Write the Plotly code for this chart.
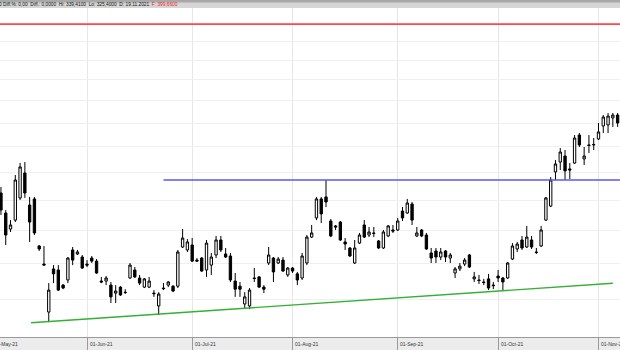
import pandas as pd
import plotly.graph_objects as go

# ---------------- data ----------------
holidays = ["2021-05-31", "2021-07-05", "2021-09-06"]
trading_days = pd.bdate_range("2021-05-03", "2021-11-05", freq="C", holidays=holidays)
candle_dates = trading_days[2:]

opens = [245.0, 231.2, 220.7, 226.5, 241.5, 259.6, 236.6, 240.8, 210.1, 199.4,
         173.5, 196.6, 196.0, 187.6, 190.4, 207.7, 205.3, 203.5,
         199.4, 202.9, 201.1, 189.8, 189.8, 187.6, 183.3, 186.5, 183.8, 191.5,
         196.0, 191.5, 186.5, 186.5, 183.3, 176.6, 186.0, 187.6, 187.0, 187.0,
         209.5, 207.7, 210.7, 201.7, 202.9, 196.0, 198.8, 204.7, 213.8, 205.3,
         204.1, 189.8, 187.0, 177.6, 176.6, 191.5, 192.1, 186.5, 200.0, 202.9,
         200.0, 201.7, 193.2, 197.1, 193.8, 191.5, 200.0, 215.6, 227.9, 240.8,
         242.2, 225.9, 222.7, 225.2, 212.6, 208.9, 200.0, 211.9, 223.3, 216.9,
         218.2, 213.2, 208.9, 216.3, 220.1, 220.1, 232.5, 231.2, 237.3, 216.3,
         220.1, 216.9, 205.9, 207.1, 203.5, 207.1, 202.9, 194.3, 196.6, 199.4,
         204.7, 191.0, 190.4, 189.3, 191.0, 187.6, 192.6, 191.5, 191.5, 202.3,
         208.3, 213.8, 209.5, 213.8, 206.5, 210.1, 226.5, 235.9, 260.4, 268.0,
         272.7, 262.7, 267.2, 289.8, 270.4, 281.6, 281.6, 286.5, 297.5, 298.4,
         304.5, 307.1]
highs = [249.3, 233.2, 226.5, 258.1, 267.3, 268.0, 242.2, 242.2, 210.7, 210.1,
         188.7, 198.8, 198.8, 188.2, 203.5, 209.5, 207.7, 204.7,
         201.7, 204.1, 202.3, 192.1, 192.6, 189.3, 187.6, 187.0, 185.4, 200.0,
         197.7, 193.2, 191.5, 192.1, 184.9, 183.8, 188.7, 189.8, 187.6, 207.7,
         220.7, 214.4, 215.0, 202.9, 203.5, 213.8, 205.9, 216.3, 216.3, 208.9,
         205.9, 194.3, 189.3, 183.8, 186.0, 197.1, 192.6, 187.6, 209.5, 203.5,
         203.5, 203.5, 197.7, 197.7, 194.9, 205.9, 216.9, 223.3, 242.2, 242.2,
         254.4, 227.2, 223.3, 225.9, 215.0, 209.5, 213.8, 218.2, 226.5, 222.0,
         222.0, 213.8, 220.1, 223.3, 223.3, 227.9, 235.2, 240.8, 238.7, 222.0,
         220.7, 218.2, 208.9, 208.9, 208.9, 207.7, 205.9, 197.7, 200.0, 202.9,
         205.3, 194.9, 193.2, 191.0, 193.8, 189.3, 196.0, 192.1, 200.6, 211.9,
         212.6, 216.3, 222.7, 216.3, 208.9, 222.7, 242.2, 256.6, 269.6, 279.1,
         277.5, 267.2, 289.8, 291.5, 279.9, 289.8, 287.3, 300.1, 307.1, 308.9,
         308.9, 308.9]
lows = [229.9, 210.7, 218.8, 225.2, 240.1, 241.5, 212.6, 216.9, 207.1, 198.8,
        168.5, 188.7, 184.4, 185.4, 188.7, 198.8, 204.7, 196.6,
        197.7, 200.0, 193.8, 188.7, 187.6, 178.1, 178.1, 181.8, 182.8, 191.0,
        191.5, 187.6, 186.0, 186.0, 181.3, 172.0, 184.9, 186.5, 183.8, 186.0,
        208.9, 206.5, 200.6, 200.6, 194.9, 192.1, 193.2, 202.9, 206.5, 202.9,
        189.3, 181.3, 181.3, 175.0, 175.0, 189.3, 186.0, 183.3, 198.8, 189.3,
        199.4, 194.9, 192.1, 194.3, 187.6, 190.4, 198.8, 215.0, 226.5, 224.6,
        235.2, 215.6, 220.1, 213.2, 207.7, 203.5, 199.4, 211.3, 215.0, 215.6,
        215.6, 208.3, 208.3, 215.6, 218.2, 219.4, 225.9, 230.6, 223.3, 215.6,
        215.6, 207.7, 200.0, 200.0, 201.7, 200.6, 200.0, 191.5, 195.4, 198.2,
        197.1, 189.3, 188.2, 187.6, 184.9, 185.4, 189.3, 184.4, 191.0, 201.7,
        206.5, 207.7, 208.9, 208.3, 205.3, 209.5, 225.9, 235.2, 254.4, 261.9,
        254.4, 255.1, 266.5, 279.9, 265.7, 275.1, 277.5, 285.7, 291.5, 291.5,
        296.7, 296.7]
closes = [233.2, 216.9, 223.3, 254.4, 264.2, 245.0, 225.2, 218.2, 208.3, 198.8,
          184.9, 193.8, 184.9, 186.0, 202.9, 201.7, 206.5, 197.1,
          198.8, 201.1, 194.3, 189.3, 191.5, 181.3, 184.4, 182.3, 183.6, 198.8,
          192.1, 188.7, 191.0, 189.8, 183.0, 182.8, 185.7, 189.3, 184.4, 206.5,
          215.0, 212.6, 201.1, 201.1, 195.4, 211.9, 203.5, 213.8, 207.7, 203.5,
          190.4, 185.4, 185.4, 181.3, 184.9, 191.2, 186.5, 185.4, 204.7, 194.9,
          202.3, 195.4, 197.1, 195.4, 190.4, 204.1, 215.6, 218.2, 240.8, 230.6,
          238.7, 216.3, 222.0, 213.8, 211.3, 204.1, 208.9, 216.9, 215.6, 218.8,
          217.9, 208.9, 218.8, 222.7, 219.4, 225.9, 227.9, 238.0, 226.5, 218.2,
          216.3, 208.3, 202.9, 203.5, 206.5, 203.5, 204.7, 196.6, 198.2, 201.7,
          197.7, 192.1, 190.1, 189.0, 186.0, 187.3, 191.5, 189.3, 200.0, 210.1,
          211.3, 208.9, 215.6, 209.5, 206.2, 220.1, 241.5, 254.4, 266.5, 275.9,
          261.2, 261.9, 287.3, 281.6, 272.7, 281.2, 282.0, 292.4, 305.3, 306.2,
          307.1, 300.1]

tick_labels = ["01-May-21", "01-Jun-21", "01-Jul-21", "01-Aug-21",
               "01-Sep-21", "01-Oct-21", "01-Nov-21"]
grid_levels = [180, 200, 220, 240, 260, 280, 300, 320, 340, 360, 380, 400, 420]

red_level = 399.66          # horizontal level (red)
blue_level = 254.4          # resistance (blue)
blue_start = "2021-06-23"
green_start, green_end = ("2021-05-13", 168.2), ("2021-11-04", 188.6)

# ---------------- positions ----------------
pos = {d: i for i, d in enumerate(trading_days)}
xs = [pos[d] for d in candle_dates]
month_first = trading_days.to_series().groupby(trading_days.to_period("M")).first()
tick_pos = [pos[d] for d in month_first]
x_lo, x_hi = 1.8, 131.5
last = len(trading_days) + 2

fig = go.Figure()
fig.add_trace(go.Candlestick(
    x=xs, open=opens, high=highs, low=lows, close=closes,
    increasing=dict(line=dict(color="#000000", width=1), fillcolor="#ffffff"),
    decreasing=dict(line=dict(color="#000000", width=1), fillcolor="#000000"),
    whiskerwidth=0, showlegend=False, hoverinfo="skip"))

fig.add_trace(go.Scatter(x=[-5, last], y=[red_level, red_level], mode="lines",
                         line=dict(color="#ff4848", width=1.6), showlegend=False, hoverinfo="skip"))
fig.add_trace(go.Scatter(x=[pos[pd.Timestamp(blue_start)], last], y=[blue_level, blue_level],
                         mode="lines", line=dict(color="#5858ee", width=1.6),
                         showlegend=False, hoverinfo="skip"))
fig.add_trace(go.Scatter(x=[pos[pd.Timestamp(green_start[0])] + 0.3, pos[pd.Timestamp(green_end[0])]],
                         y=[green_start[1], green_end[1]], mode="lines",
                         line=dict(color="#34b034", width=1.3), showlegend=False, hoverinfo="skip"))

# month labels, left-aligned at each tick (May/Nov are partly cut like the original)
label_annots = [dict(xref="paper", yref="paper",
                     x=(tp - x_lo) / (x_hi - x_lo) + 1.5 / 620, y=0,
                     xanchor="left", yanchor="top", yshift=-3, showarrow=False,
                     borderpad=0, text=lab, font=dict(size=5, color="#333333"))
                for tp, lab in zip(tick_pos, tick_labels)]

header = dict(
    xref="paper", yref="paper", x=-0.004, y=1, xanchor="left", yanchor="bottom",
    borderpad=0, showarrow=False, font=dict(size=4.8, color="#111111"),
    text="0 Diff.%: 0,00  Diff.: 0,0000  Hi: 339,4100  Lo: 325,4000  D: 19.11.2021  "
         "<span style='color:#ee2222'>F: 399,6600</span>")

fig.update_layout(
    width=620, height=350,
    margin=dict(l=0, r=0, t=8, b=13),
    paper_bgcolor="#ececec", plot_bgcolor="#ffffff",
    showlegend=False,
    font=dict(family="Liberation Sans, Arial", size=5, color="#333333"),
    xaxis=dict(range=[x_lo, x_hi], tickvals=tick_pos, showticklabels=False,
               showgrid=True, gridcolor="#e6e6e6", gridwidth=1, zeroline=False,
               ticks="outside", ticklen=13, tickcolor="#9a9a9a", tickwidth=1,
               showline=True, linecolor="#9a9a9a", linewidth=1,
               rangeslider=dict(visible=False), fixedrange=True),
    yaxis=dict(type="log", range=[2.2079, 2.6220], tickvals=grid_levels,
               showticklabels=False, showgrid=True, gridcolor="#efefef", gridwidth=1,
               zeroline=False, ticks="", showline=False, fixedrange=True),
    shapes=[
        dict(type="rect", xref="paper", yref="paper", x0=0, x1=1,
             y0=1.0, y1=1 + 8 / 329, fillcolor="#d6d6d6", line=dict(width=0), layer="below"),
        dict(type="rect", xref="paper", yref="paper", x0=0, x1=1,
             y0=1 + 5.6 / 329, y1=1 + 8 / 329, fillcolor="#a8a8a8", line=dict(width=0)),
    ],
    annotations=label_annots + [header],
)

fig.write_html("out.html")
